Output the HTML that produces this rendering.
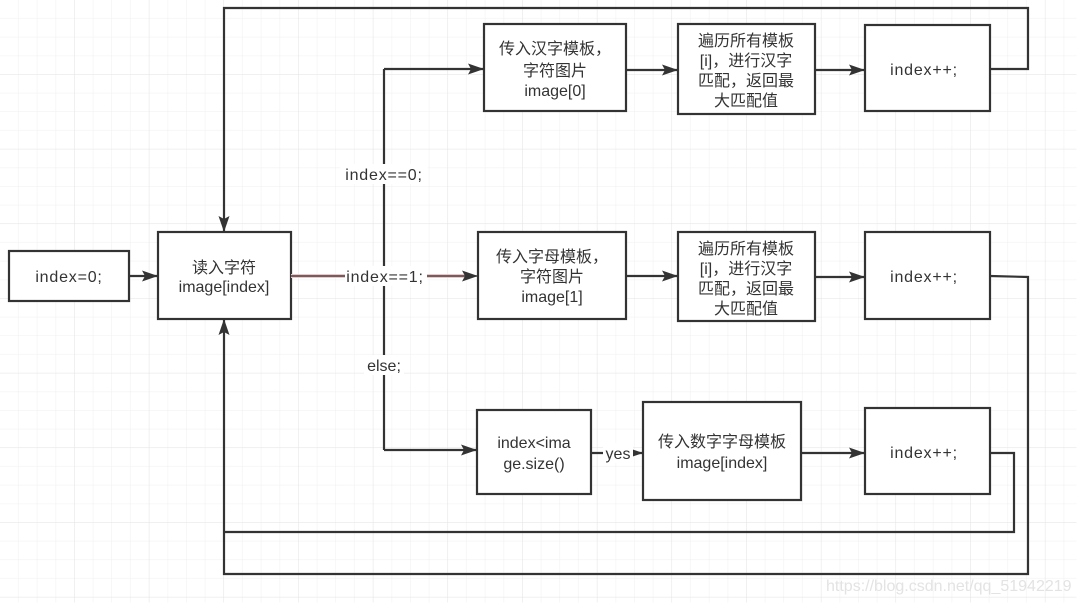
<!DOCTYPE html>
<html><head><meta charset="utf-8"><style>
html,body{margin:0;padding:0;background:#fff;}
svg{display:block;}
text{font-family:"Liberation Sans","Noto Sans CJK SC",sans-serif;font-size:16px;fill:#333;}
.l{letter-spacing:0.8px;}
</style></head><body>
<svg width="1077" height="603" viewBox="0 0 1077 603" xmlns="http://www.w3.org/2000/svg">
<defs>
<pattern id="g" width="18.67" height="18.67" patternUnits="userSpaceOnUse">
<path d="M18.67 0V18.67M0 18.67H18.67" stroke="#efefef" stroke-width="1" fill="none"/>
</pattern>
<pattern id="G" width="74.67" height="74.67" patternUnits="userSpaceOnUse">
<rect width="74.67" height="74.67" fill="url(#g)"/>
<path d="M74.67 0V74.67M0 74.67H74.67" stroke="#e2e2e2" stroke-width="1" fill="none"/>
</pattern>
<marker id="a" markerWidth="16" markerHeight="12" refX="15" refY="6" orient="auto" markerUnits="userSpaceOnUse">
<path d="M0,0.5 L16,6 L0,11.5 L3,6 z" fill="#333"/>
</marker>
</defs>
<rect width="1077" height="603" fill="url(#G)" x="-0.5" y="-0.5"/>
<g stroke="#333" stroke-width="2.2" fill="none">
<rect x="9" y="251" width="120" height="50" fill="#fff"/>
<rect x="158" y="232" width="133" height="87" fill="#fff"/>
<rect x="484" y="24" width="142" height="87" fill="#fff"/>
<rect x="678" y="24" width="137" height="90" fill="#fff"/>
<rect x="865" y="25" width="125" height="86" fill="#fff"/>
<rect x="478" y="232" width="148" height="87" fill="#fff"/>
<rect x="678" y="232" width="137" height="89" fill="#fff"/>
<rect x="865" y="232" width="125" height="87" fill="#fff"/>
<rect x="477" y="410" width="114" height="84" fill="#fff"/>
<rect x="643" y="402" width="158" height="98" fill="#fff"/>
<rect x="865" y="408" width="125" height="86" fill="#fff"/>
<path d="M129 276H157" marker-end="url(#a)"/>
<path d="M990 69H1028V8H224V231" marker-end="url(#a)"/>
<path d="M384 69V450"/>
<path d="M384 69H483" marker-end="url(#a)"/>
<path d="M384 450H476" marker-end="url(#a)"/>
<path d="M626 70H677" marker-end="url(#a)"/>
<path d="M815 70H864" marker-end="url(#a)"/>
<path d="M626 276H677" marker-end="url(#a)"/>
<path d="M815 277H864" marker-end="url(#a)"/>
<path d="M801 453H864" marker-end="url(#a)"/>
<path d="M591 453H642" marker-end="url(#a)"/>
<path d="M990 276L1028 277V574H224V320" marker-end="url(#a)"/>
<path d="M990 453H1014V532H224"/>
</g>
<path d="M291 276H470" stroke="#e8c8c8" stroke-width="4" fill="none"/>
<path d="M291 276H477" stroke="#4a3a3a" stroke-width="1.5" fill="none" marker-end="url(#a)"/>
<rect x="340" y="164" width="88" height="20" fill="#fff"/>
<text class="l" x="384" y="180" text-anchor="middle">index==0;</text>
<rect x="345" y="266" width="82" height="20" fill="#fff"/>
<text class="l" x="385" y="282" text-anchor="middle">index==1;</text>
<rect x="364" y="355" width="40" height="20" fill="#fff"/>
<text x="384" y="371" text-anchor="middle">else;</text>
<rect x="603" y="443" width="30" height="20" fill="#fff"/>
<text x="618" y="459" text-anchor="middle">yes</text>
<g text-anchor="middle">
<text class="l" x="69" y="282">index=0;</text>
<text x="224" y="273">读入字符</text><text x="224" y="292">image[index]</text>
<text x="555" y="54">传入汉字模板，</text><text x="555" y="76">字符图片</text><text x="555" y="96">image[0]</text>
<text x="746" y="46">遍历所有模板</text><text x="746" y="66">[i]，进行汉字</text><text x="746" y="86">匹配，返回最</text><text x="746" y="106">大匹配值</text>
<text class="l" x="924" y="75">index++;</text>
<text x="552" y="262">传入字母模板，</text><text x="552" y="282">字符图片</text><text x="552" y="302">image[1]</text>
<text x="746" y="254">遍历所有模板</text><text x="746" y="274">[i]，进行汉字</text><text x="746" y="294">匹配，返回最</text><text x="746" y="314">大匹配值</text>
<text class="l" x="924" y="282">index++;</text>
<text x="534" y="448">index&lt;ima</text><text x="534" y="469">ge.size()</text>
<text x="722" y="447">传入数字字母模板</text><text x="722" y="468">image[index]</text>
<text class="l" x="924" y="458">index++;</text>
</g>
<text x="826" y="591" style="font-size:16px;fill:#e3e3e3">https://blog.csdn.net/qq_51942219</text>
</svg>
</body></html>
